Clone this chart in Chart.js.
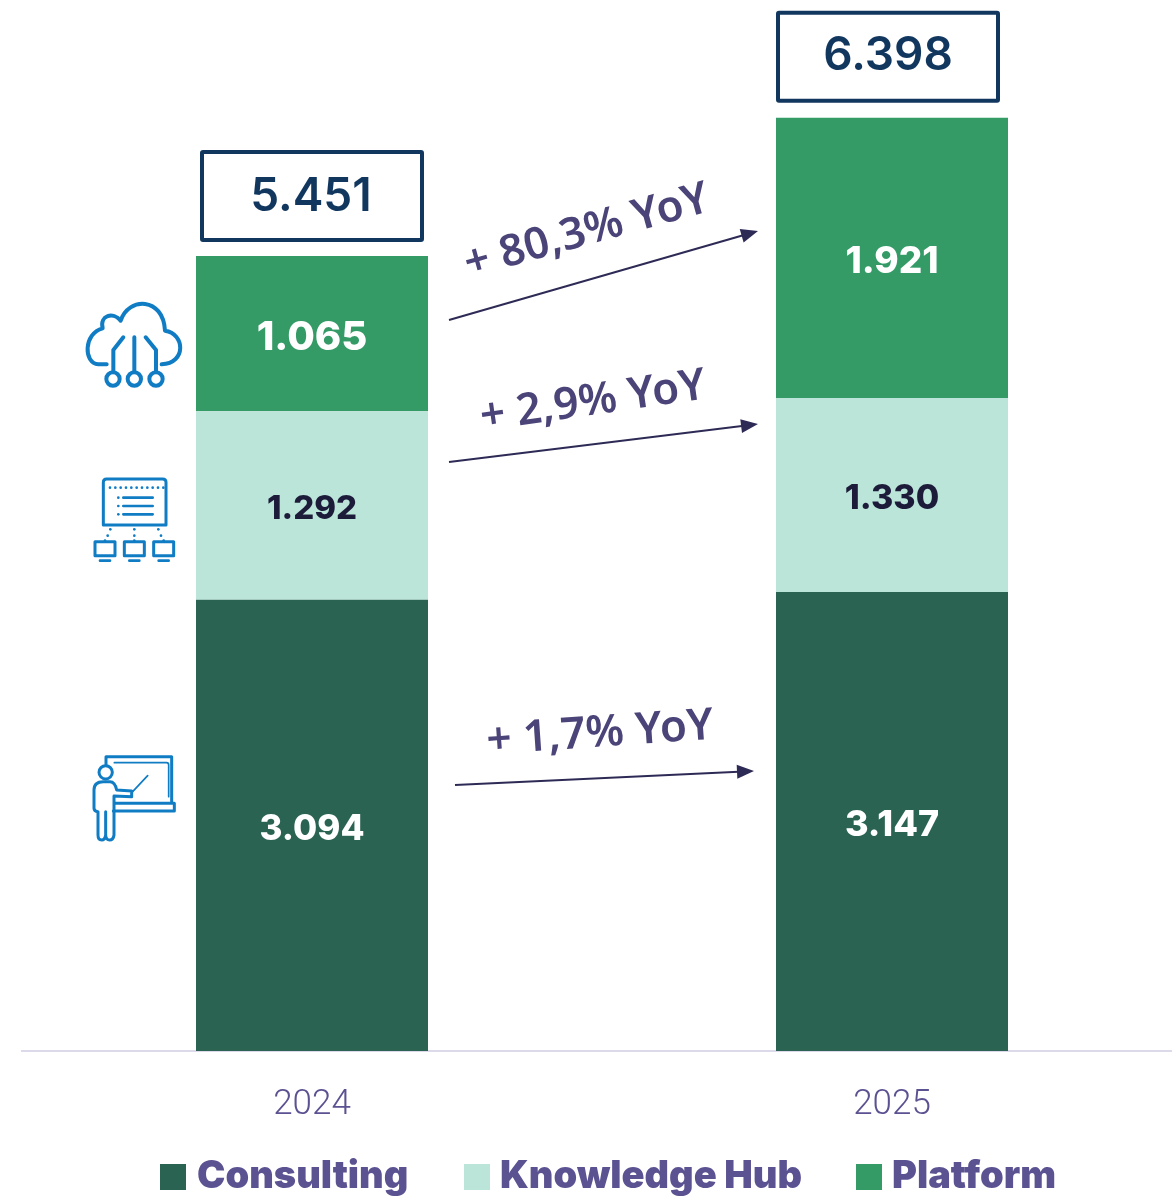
<!DOCTYPE html>
<html>
<head>
<meta charset="utf-8">
<style>
  html, body { margin: 0; padding: 0; background: #fff; overflow: hidden; }
  #wrap { width: 1182px; height: 1198px; position: relative; }
</style>
</head>
<body>
<div id="wrap"><canvas id="c1"></canvas></div>
<script src="https://cdn.jsdelivr.net/npm/chart.js@4"></script>
<script>
const YEARS = ['2024', '2025'];
const CONSULTING = [3094, 3147];
const KNOWLEDGE = [1292, 1330];
const PLATFORM = [1065, 1921];
const TOTALS = [5451, 6398];
const YOY_LABELS = ['+ 80,3% YoY', '+ 2,9% YoY', '+ 1,7% YoY'];

const COLORS = {
  consulting: '#2a6352',
  knowledge: '#bce5da',
  platform: '#349b67',
  navy: '#12375f',
  darkText: '#1c1c3a',
  purple: '#5b5291',
  yoy: '#4a4478',
  arrow: '#2d2a55',
  axis: '#dcd9ea',
  icon: '#0f7cc4',
};

const fmt = v => v.toLocaleString('pt-BR');

// font sizes per dataset/year, Inter digits run wider than the original's
const LABEL_SIZES = [[35, 36], [33, 34], [40, 37]];

// value labels inside the stacks, and the boxed totals on top
const barLabels = {
  id: 'barLabels',
  afterDatasetsDraw(chart) {
    const ctx = chart.ctx;
    ctx.save();
    ctx.textAlign = 'center';
    ctx.textBaseline = 'middle';
    chart.data.datasets.forEach((ds, i) => {
      chart.getDatasetMeta(i).data.forEach((bar, j) => {
        const mid = (bar.y + bar.base) / 2;
        ctx.fillStyle = i === 1 ? COLORS.darkText : '#fff';
        ctx.font = '800 ' + LABEL_SIZES[i][j] + 'px Inter';
        ctx.fillText(fmt(ds.data[j]), bar.x, mid + 4);
      });
    });
    const top = chart.getDatasetMeta(2).data;
    TOTALS.forEach((t, j) => {
      const cx = top[j].x - (j === 1 ? 4 : 0);
      const boxBottom = top[j].y - (j === 1 ? 17 : 16);
      ctx.strokeStyle = COLORS.navy;
      ctx.lineWidth = 4;
      ctx.beginPath();
      ctx.roundRect(cx - 110, boxBottom - 88, 220, 88, 1);
      ctx.stroke();
      ctx.fillStyle = COLORS.navy;
      ctx.font = '600 46px Inter';
      ctx.fillText(fmt(t), cx - (j === 0 ? 1 : 0), boxBottom - 45 + (j === 0 ? 2 : 0));
    });
    ctx.restore();
  },
};

// growth arrows between the two bars
const ARROWS = [
  { from: [449, 320], to: [758, 231], text: [587, 232], angle: -15.5 },
  { from: [449, 462], to: [758, 424], text: [593, 402], angle: -8.2 },
  { from: [455, 785], to: [754, 771], text: [600, 734], angle: -4 },
];

const yoyArrows = {
  id: 'yoyArrows',
  afterDraw(chart) {
    const ctx = chart.ctx;
    ctx.save();
    ARROWS.forEach((a, i) => {
      const ang = Math.atan2(a.to[1] - a.from[1], a.to[0] - a.from[0]);
      ctx.strokeStyle = ctx.fillStyle = COLORS.arrow;
      ctx.lineWidth = 2;
      ctx.beginPath();
      ctx.moveTo(a.from[0], a.from[1]);
      ctx.lineTo(a.to[0] - 10 * Math.cos(ang), a.to[1] - 10 * Math.sin(ang));
      ctx.stroke();
      ctx.save();
      ctx.translate(a.to[0], a.to[1]);
      ctx.rotate(ang);
      ctx.beginPath();
      ctx.moveTo(0, 0);
      ctx.lineTo(-17, -7);
      ctx.lineTo(-17, 7);
      ctx.closePath();
      ctx.fill();
      ctx.restore();

      ctx.save();
      ctx.translate(a.text[0], a.text[1]);
      ctx.rotate(a.angle * Math.PI / 180);
      ctx.fillStyle = COLORS.yoy;
      ctx.font = '600 44px "Noto Sans"';
      ctx.textAlign = 'center';
      ctx.textBaseline = 'middle';
      ctx.fillText(YOY_LABELS[i], 0, 0);
      ctx.restore();
    });
    ctx.restore();
  },
};

// the three pictograms, traced at 3x and scaled down
const ICON_STROKES = [
  { w: 12, d: 'M110 253H85C40 250 40 160 98 145C88 105 130 95 152 122C175 50 280 50 285 152C345 160 350 250 275 253' },
  { w: 12, d: 'M193 172V274M160 172L130 210V274M227 172L258 210V274' },
  { w: 12, d: 'M149 297a20 20 0 1 0-40 0a20 20 0 1 0 40 0M213 297a20 20 0 1 0-40 0a20 20 0 1 0 40 0M278 297a20 20 0 1 0-40 0a20 20 0 1 0 40 0' },
  { w: 9, d: 'M100 735V607Q100 597 110 597H278Q288 597 288 607V735Z' },
  { w: 8, d: 'M160 653H248M160 678H248M160 703H248M90 842H120M178 842H208M266 842H296' },
  { w: 9, d: 'M75 785H135V827H75ZM163 785H223V827H163ZM251 785H311V827H251Z' },
];
const ICON_DOTS = [
  [120, 623], [136, 623], [152, 623], [168, 623], [184, 623], [200, 623], [216, 623], [232, 623], [248, 623], [264, 623], [280, 623],
  [145, 653], [145, 678], [145, 703],
  [121, 748], [113, 767], [105, 782], [193, 748], [193, 767], [193, 782], [265, 748], [273, 767], [281, 782],
];
const TEACHER_STROKES = [
  { w: 9, d: 'M108 75V50H305V190M130 213H313V190H135' },
  { w: 5, d: 'M133 68H290Q296 68 296 75V170M188 155L233 107' },
  { w: 9, d: 'M127 97a20 20 0 1 0-40 0a20 20 0 1 0 40 0' },
  { w: 9, d: 'M84 215Q72 215 72 205V150Q72 125 100 125H120Q135 125 140 150L185 153V170L132 168V285Q130 300 119 300Q108 300 107 285V215M107 285Q105 300 95 300Q84 300 84 285V215' },
];

const icons = {
  id: 'icons',
  afterDraw(chart) {
    const ctx = chart.ctx;
    const group = (ox, oy, strokes, dots) => {
      ctx.save();
      ctx.translate(ox, oy);
      ctx.scale(1 / 3, 1 / 3);
      ctx.strokeStyle = ctx.fillStyle = COLORS.icon;
      ctx.lineCap = 'round';
      ctx.lineJoin = 'round';
      strokes.forEach(s => {
        ctx.lineWidth = s.w;
        ctx.stroke(new Path2D(s.d));
      });
      (dots || []).forEach(p => {
        ctx.beginPath();
        ctx.arc(p[0], p[1], 4, 0, Math.PI * 2);
        ctx.fill();
      });
      ctx.restore();
    };
    group(70, 280, ICON_STROKES, ICON_DOTS);
    group(70, 740, TEACHER_STROKES);
  },
};

// legend is placed by hand, the built-in one can't get this spacing
const LEGEND_X = [160, 464, 856];
const LEGEND_TEXT_X = [197, 500, 892];

const bottomLegend = {
  id: 'bottomLegend',
  afterDraw(chart) {
    const ctx = chart.ctx;
    ctx.save();
    ctx.textBaseline = 'middle';
    ctx.font = '900 38px Inter';
    chart.data.datasets.forEach((ds, i) => {
      ctx.fillStyle = ds.backgroundColor;
      ctx.fillRect(LEGEND_X[i], 1164, 26, 26);
      ctx.fillStyle = COLORS.purple;
      ctx.fillText(ds.label, LEGEND_TEXT_X[i], 1177);
    });
    ctx.restore();
  },
};

new Chart(document.getElementById('c1'), {
  type: 'bar',
  data: {
    labels: YEARS,
    datasets: [
      { label: 'Consulting', data: CONSULTING, backgroundColor: COLORS.consulting },
      { label: 'Knowledge Hub', data: KNOWLEDGE, backgroundColor: COLORS.knowledge },
      { label: 'Platform', data: PLATFORM, backgroundColor: COLORS.platform },
    ],
  },
  options: {
    responsive: true, maintainAspectRatio: false, animation: false,
    layout: { padding: { left: 22, right: 0, top: 0, bottom: 0 } },
    datasets: { bar: { categoryPercentage: 1, barPercentage: 0.4 } },
    plugins: { legend: { display: false }, tooltip: { enabled: false } },
    scales: {
      x: {
        stacked: true,
        grid: { display: false },
        border: { display: true, color: COLORS.axis, width: 2 },
        ticks: { color: COLORS.purple, padding: 25, font: { family: 'Roboto', size: 35, weight: 300 } },
        afterFit(scale) { scale.height = 147; },
      },
      y: { stacked: true, display: false, min: 0, max: 7206 },
    },
  },
  plugins: [barLabels, yoyArrows, icons, bottomLegend],
});
</script>
</body>
</html>
